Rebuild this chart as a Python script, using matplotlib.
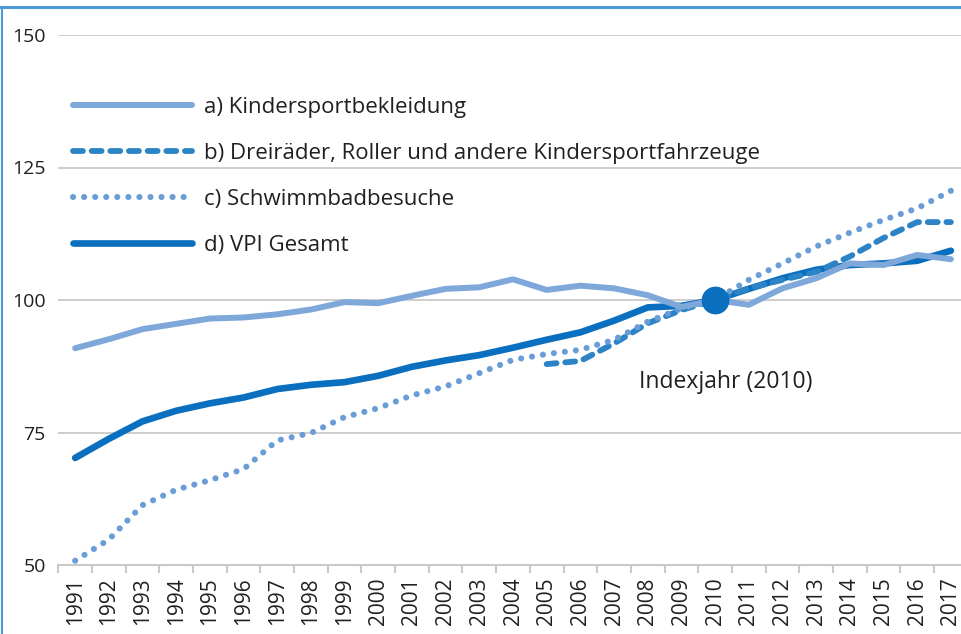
import numpy as np
import matplotlib
matplotlib.use("Agg")
import matplotlib.pyplot as plt
from matplotlib.lines import Line2D

plt.rcParams['font.family'] = ['Open Sans', 'DejaVu Sans']

# data (2010 = 100)
years = [str(y) for y in range(1991, 2018)]
kinderbekleidung = [90.9, 92.6, 94.5, 95.5, 96.5, 96.7, 97.3, 98.2, 99.6, 99.4,
                    100.8, 102.1, 102.4, 103.9, 101.9, 102.7, 102.2, 100.9, 98.7,
                    100.0, 99.1, 102.2, 104.1, 106.9, 106.6, 108.5, 107.7]
dreiraeder_years = years[14:]
dreiraeder = [87.9, 88.5, 91.8, 95.6, 98.1, 100.0, 102.2, 103.8, 105.3, 108.2,
              111.7, 114.7, 114.7]
schwimmbad = [50.8, 54.8, 61.3, 64.2, 66.0, 68.1, 73.5, 74.9, 77.9, 79.6,
              82.0, 83.7, 86.2, 88.7, 89.8, 90.6, 92.5, 95.9, 98.4, 100.0,
              103.8, 106.9, 110.1, 112.7, 115.1, 117.3, 120.6]
vpi = [70.2, 73.8, 77.1, 79.1, 80.5, 81.6, 83.2, 84.0, 84.5, 85.7, 87.4, 88.6,
       89.6, 91.0, 92.5, 93.9, 96.1, 98.6, 98.9, 100.0, 102.1, 104.1, 105.7,
       106.6, 106.9, 107.4, 109.3]
labels = ['a) Kindersportbekleidung',
          'b) Dreiräder, Roller und andere Kindersportfahrzeuge',
          'c) Schwimmbadbesuche',
          'd) VPI Gesamt']
index_year = '2010'

c_a = '#7ea7da'
c_b = '#2c84c7'
c_c = '#6a9dd7'
c_d = '#0a6fbe'
grid_c = '#c9c9c9'
txt_c = '#231f20'

fig = plt.figure(figsize=(9.61, 6.34), dpi=100)
ax = fig.add_axes([58.3 / 961, (634 - 565) / 634, (967.7 - 58.3) / 961, (565 - 35) / 634])

x = np.arange(len(years))
xb = np.array([years.index(y) for y in dreiraeder_years])

l_d, = ax.plot(x, vpi, color=c_d, lw=4.8, solid_capstyle='round', solid_joinstyle='round', zorder=3)
l_b, = ax.plot(xb, dreiraeder, color=c_b, lw=4.2, dash_capstyle='round', zorder=4)
l_b.set_dashes((1.7, 1.5))
l_c, = ax.plot(x, schwimmbad, color=c_c, lw=4.4, dash_capstyle='round', zorder=4)
l_c.set_dashes((0.01, 1.8))
l_a, = ax.plot(x, kinderbekleidung, color=c_a, lw=4.3, solid_capstyle='round', solid_joinstyle='round', zorder=5)
i0 = years.index(index_year)
ax.plot([i0], [vpi[i0]], 'o', color=c_d, markersize=19, zorder=6)

ax.text(i0 + 0.33, 84.5, 'Indexjahr (2010)', ha='center', va='center', fontsize=16.5, color=txt_c)

ax.set_xlim(-0.5, len(years) - 0.5)
ax.set_ylim(50, 150)
ax.set_yticks([50, 75, 100, 125, 150])
ax.yaxis.grid(True, color=grid_c, lw=1.3)
ax.set_axisbelow(True)
for s in ['top', 'right', 'left']:
    ax.spines[s].set_visible(False)
ax.spines['bottom'].set_color(grid_c)
ax.spines['bottom'].set_linewidth(1.5)

ax.set_xticks(x)
ax.set_xticklabels(years, rotation=90, va='top', ha='center')
ax.set_xticks(np.arange(-0.5, len(years) - 0.5, 1), minor=True)
ax.tick_params(axis='x', which='major', length=0, pad=9, labelsize=15, labelcolor=txt_c)
ax.tick_params(axis='x', which='minor', length=6, width=1.5, color=grid_c)
ax.tick_params(axis='y', length=0, pad=9, labelsize=14, labelcolor=txt_c)

leg = ax.legend([l_a, l_b, l_c, l_d], labels, loc='upper left',
                bbox_to_anchor=(73 / 961, 1 - 97 / 634), bbox_transform=fig.transFigure,
                frameon=False, fontsize=16, handlelength=5.35, handletextpad=0.54,
                labelspacing=1.12, borderpad=0, borderaxespad=0)
for t in leg.get_texts():
    t.set_color(txt_c)

# frame
fig.add_artist(Line2D([0, 1], [1 - 7 / 634, 1 - 7 / 634], transform=fig.transFigure, color='#4a9bd5', lw=2.2))
fig.add_artist(Line2D([1.5 / 961, 1.5 / 961], [0, 1 - 7 / 634], transform=fig.transFigure, color='#4a9bd5', lw=1.5))

fig.savefig('out.png', dpi=100)
